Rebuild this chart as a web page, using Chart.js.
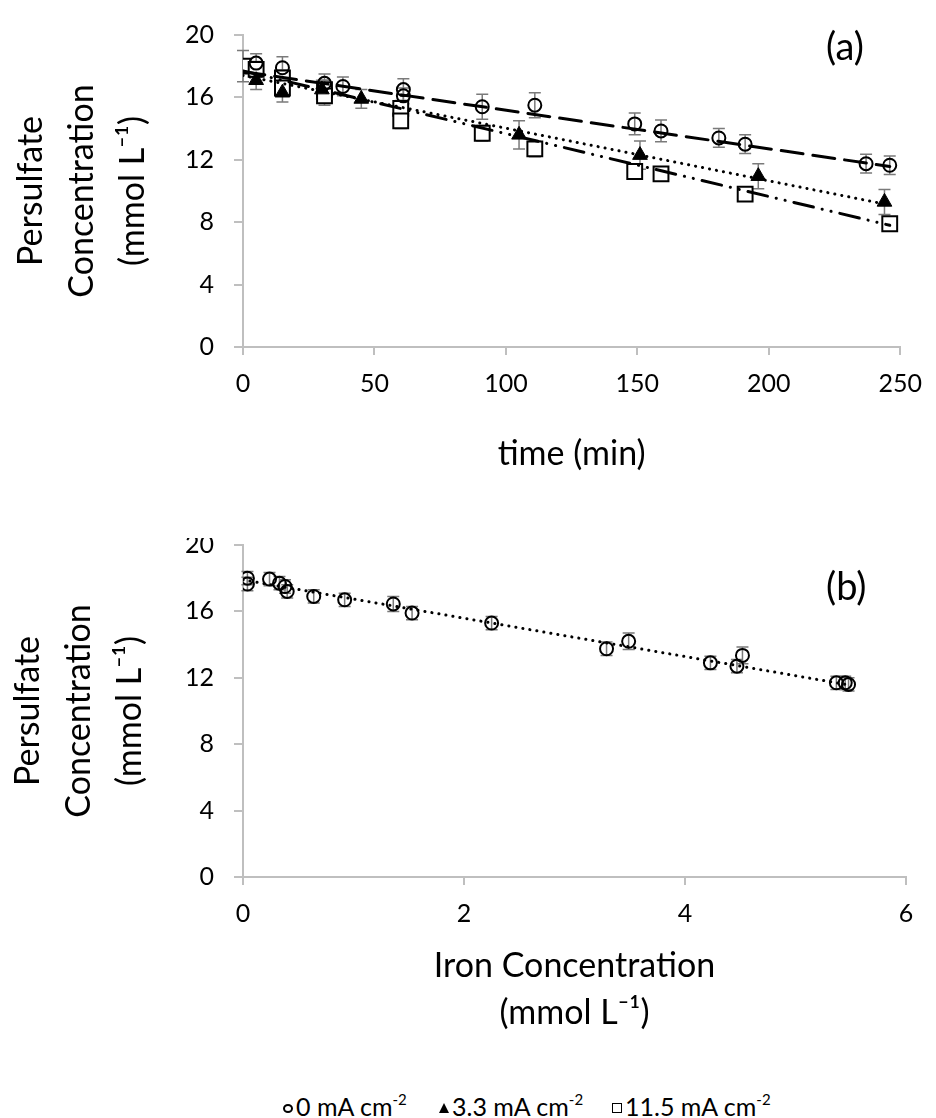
<!DOCTYPE html>
<html>
<head>
<meta charset="utf-8">
<script src="https://cdn.jsdelivr.net/npm/chart.js@4.4.1/dist/chart.umd.min.js"></script>
<style>
    body { margin: 0; background: #fff; width: 936px; height: 1118px; position: relative; overflow: hidden; font-family: Lato, sans-serif; color: #000; }
    #chartA { position: absolute; left: 0; top: 0; }
    #wrapB { position: absolute; left: 0; top: 538px; width: 936px; height: 502px; overflow: hidden; }
    #chartB { position: absolute; left: 0; top: -28px; }
    .panel-tag { position: absolute; font-size: 38px; line-height: 1; }
    .legend-item { position: absolute; top: 1094px; font-size: 25px; line-height: 1; white-space: nowrap; }
    .legend-item sup { font-size: 15px; position: relative; top: -2px; }
    .mk { display: inline-block; margin-right: 3px; vertical-align: 3px; box-sizing: border-box; }
    .mk-circle { width: 10px; height: 9px; border: 2px solid #000; border-radius: 50%; }
    .mk-tri { width: 0; height: 0; border-left: 5px solid transparent; border-right: 5px solid transparent; border-bottom: 10px solid #000; }
    .mk-rect { width: 10px; height: 10px; border: 1.5px solid #000; background: #fff; }
</style>
</head>
<body>
<canvas id="chartA" width="936" height="480"></canvas>
<div id="wrapB"><canvas id="chartB" width="936" height="530"></canvas></div>
<div class="panel-tag" style="left:826px; top:26px;">(a)</div>
<div class="panel-tag" style="left:826px; top:566px;">(b)</div>
<div class="legend-item" style="left:283px;"><span class="mk mk-circle"></span>0 mA cm<sup>-2</sup></div>
<div class="legend-item" style="left:439px;"><span class="mk mk-tri"></span>3.3 mA cm<sup>-2</sup></div>
<div class="legend-item" style="left:612px;"><span class="mk mk-rect"></span>11.5 mA cm<sup>-2</sup></div>
<script>
// (a) persulfate vs time
var time0 = [5, 15, 31, 38, 61, 61, 91, 111, 149, 159, 181, 191, 237, 246];
var conc0 = [18.2, 17.9, 16.9, 16.7, 16.5, 16.1, 15.4, 15.5, 14.3, 13.85, 13.4, 13.0, 11.75, 11.65];
var err0 = [0.6, 0.7, 0.6, 0.6, 0.7, 0.5, 0.8, 0.8, 0.7, 0.7, 0.6, 0.6, 0.6, 0.6];

var time33 = [5, 15, 30, 45, 105, 151, 196, 244];
var conc33 = [17.1, 16.3, 16.5, 15.9, 13.6, 12.3, 10.95, 9.3];
var err33 = [0.6, 0.6, 0.6, 0.6, 0.9, 0.9, 0.8, 0.8];

var time115 = [0, 5, 15, 15, 31, 31, 60, 60, 91, 111, 149, 159, 191, 246];
var conc115 = [18.0, 17.8, 17.25, 16.6, 16.5, 16.1, 15.3, 14.5, 13.7, 12.7, 11.25, 11.1, 9.8, 7.9];
var err115 = [1.0, 0.5, 0.5, 0.5, 0.6, 0.6, 0.5, 0.5, 0.5, 0.5, 0.5, 0.4, 0.4, 0.4];

// trend line end points
var trendTime = [0, 246];
var trend0 = [17.65, 11.57];
var trend33 = [17.4, 9.1];
var trend115 = [17.7, 7.8];

// (b) persulfate vs iron
var ironConc = [0.04, 0.04, 0.24, 0.33, 0.38, 0.40, 0.64, 0.92, 1.36, 1.53, 2.25, 3.29, 3.49, 4.23, 4.47, 4.52, 5.37, 5.45, 5.48];
var ironPers = [18.0, 17.65, 17.95, 17.7, 17.5, 17.2, 16.9, 16.7, 16.45, 15.9, 15.3, 13.75, 14.2, 12.9, 12.7, 13.35, 11.7, 11.7, 11.6];
var ironErr = [0.4, 0.4, 0.4, 0.4, 0.4, 0.4, 0.4, 0.4, 0.45, 0.4, 0.4, 0.4, 0.5, 0.4, 0.4, 0.5, 0.4, 0.4, 0.4];
var trendIron = [0, 5.5];
var trendIronPers = [17.9, 11.55];

var yTicks = [0, 4, 8, 12, 16, 20];
var yTitle = ['Persulfate', 'Concentration', '(mmol L\u207B\u00B9)'];

var figure = (function () {
    var axisGray = '#bfbfbf';

    var errorBars = {
        id: 'errorBars',
        beforeDatasetsDraw: function (chart) {
            var ctx = chart.ctx;
            var yScale = chart.scales.y;
            ctx.save();
            ctx.strokeStyle = '#7a7a7a';
            ctx.lineWidth = 1.5;
            chart.data.datasets.forEach(function (ds, i) {
                if (!ds.errors) { return; }
                var meta = chart.getDatasetMeta(i);
                meta.data.forEach(function (el, j) {
                    var v = ds.data[j].y;
                    var top = yScale.getPixelForValue(v + ds.errors[j]);
                    var bot = yScale.getPixelForValue(v - ds.errors[j]);
                    ctx.beginPath();
                    ctx.moveTo(el.x, top); ctx.lineTo(el.x, bot);
                    ctx.moveTo(el.x - 6, top); ctx.lineTo(el.x + 6, top);
                    ctx.moveTo(el.x - 6, bot); ctx.lineTo(el.x + 6, bot);
                    ctx.stroke();
                });
            });
            ctx.restore();
        }
    };

    function toPoints(xs, ys) {
        var pts = [];
        for (var i = 0; i < xs.length; i++) {
            pts.push({ x: xs[i], y: ys[i] });
        }
        return pts;
    }

    function markerSet(xs, ys, errs, style) {
        var ds = {
            data: toPoints(xs, ys),
            errors: errs,
            showLine: false,
            pointBorderColor: '#000',
            pointBorderWidth: 2,
            order: 1
        };
        if (style === 'circle') {
            ds.pointStyle = 'circle'; ds.pointRadius = 6.5; ds.pointBackgroundColor = 'rgba(0,0,0,0)';
        } else if (style === 'triangle') {
            ds.pointStyle = 'triangle'; ds.pointRadius = 8.5; ds.pointBackgroundColor = '#000'; ds.pointBorderWidth = 1;
        } else {
            ds.pointStyle = 'rect'; ds.pointRadius = 10.5; ds.pointBackgroundColor = '#fff';
        }
        return ds;
    }

    function trendSet(xs, ys, dash) {
        return {
            data: toPoints(xs, ys),
            showLine: true,
            pointRadius: 0,
            borderColor: '#000',
            borderWidth: 3,
            borderDash: dash,
            borderCapStyle: 'round',
            order: 0
        };
    }

    function scales(xMax, xStep, xTitle, xTitlePad, yTitlePad, xHeight) {
        var font = { family: 'Lato', size: 25 };
        return {
            x: {
                type: 'linear', min: 0, max: xMax,
                ticks: { stepSize: xStep, color: '#000', font: font, padding: 14, maxRotation: 0 },
                grid: { drawOnChartArea: false, color: axisGray, tickLength: 8, lineWidth: 2 },
                border: { color: axisGray, width: 2 },
                title: {
                    display: true, text: xTitle, color: '#000',
                    font: { family: 'Lato', size: 34, lineHeight: 1.38 },
                    padding: { top: 0, bottom: xTitlePad }
                },
                afterFit: function (s) { s.height = xHeight; }
            },
            y: {
                type: 'linear', min: 0, max: 20,
                afterBuildTicks: function (s) { s.ticks = yTicks.map(function (v) { return { value: v }; }); },
                ticks: { color: '#000', font: font, padding: 20 },
                grid: { drawOnChartArea: false, color: axisGray, tickLength: 9, lineWidth: 2 },
                border: { color: axisGray, width: 2 },
                title: {
                    display: true, text: yTitle, color: '#000',
                    font: { family: 'Lato', size: 34, lineHeight: 1.5 },
                    padding: { top: yTitlePad, bottom: 0 }
                },
                afterFit: function (s) { s.width = 243; }
            }
        };
    }

    function baseOptions(sc, pad) {
        return {
            responsive: false,
            animation: false,
            layout: { padding: pad },
            plugins: { legend: { display: false }, tooltip: { enabled: false } },
            scales: sc
        };
    }

    function drawTimeChart() {
        new Chart(document.getElementById('chartA'), {
            type: 'scatter',
            data: {
                datasets: [
                    trendSet(trendTime, trend0, [22, 10]),
                    trendSet(trendTime, trend33, [0.1, 7]),
                    trendSet(trendTime, trend115, [20, 9, 0.1, 9, 0.1, 9]),
                    markerSet(time0, conc0, err0, 'circle'),
                    markerSet(time33, conc33, err33, 'triangle'),
                    markerSet(time115, conc115, err115, 'rect')
                ]
            },
            options: baseOptions(scales(250, 50, 'time (min)', 3, 6, 133), { left: 0, top: 24, right: 32, bottom: 0 }),
            plugins: [errorBars]
        });
    }

    function drawIronChart() {
        new Chart(document.getElementById('chartB'), {
            type: 'scatter',
            data: {
                datasets: [
                    trendSet(trendIron, trendIronPers, [0.1, 7]),
                    markerSet(ironConc, ironPers, ironErr, 'circle')
                ]
            },
            options: baseOptions(scales(6, 2, ['Iron Concentration', '(mmol L\u207B\u00B9)'], 4, 3, 163), { left: 0, top: 34, right: 30, bottom: 0 }),
            plugins: [errorBars]
        });
    }

    var init = function () {
        drawTimeChart();
        drawIronChart();
    };

    return {
        init
    };
})();

figure.init();
</script>
</body>
</html>
